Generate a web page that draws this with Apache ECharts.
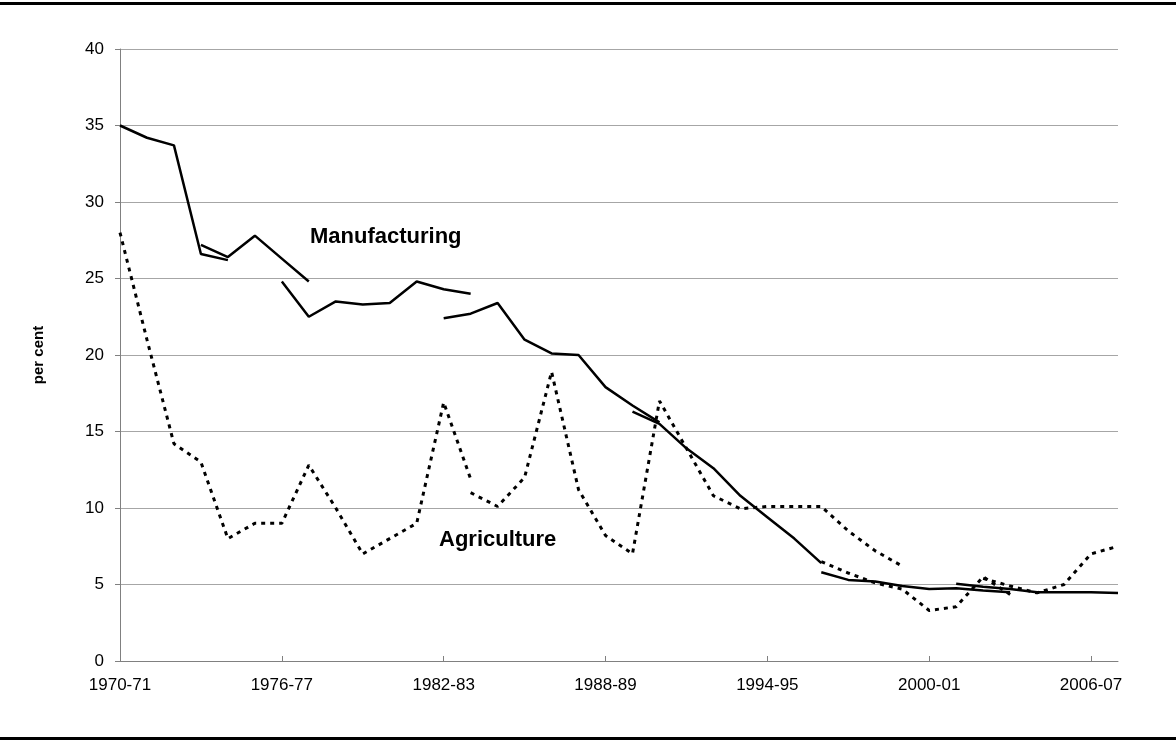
<!DOCTYPE html>
<html>
<head>
<meta charset="utf-8">
<script src="https://cdn.jsdelivr.net/npm/echarts@6/dist/echarts.min.js"></script>
<style>
  html, body { margin: 0; padding: 0; background: #fff; }
  #chart { width: 1176px; height: 742px; }
</style>
</head>
<body>
<div id="chart"></div>
<script>
// 财政年度
var years = ['1970-71','1971-72','1972-73','1973-74','1974-75','1975-76','1976-77','1977-78',
  '1978-79','1979-80','1980-81','1981-82','1982-83','1983-84','1984-85','1985-86','1986-87',
  '1987-88','1988-89','1989-90','1990-91','1991-92','1992-93','1993-94','1994-95','1995-96',
  '1996-97','1997-98','1998-99','1999-00','2000-01','2001-02','2002-03','2003-04','2004-05',
  '2005-06','2006-07','2007-08'];

// 制造业 (分段, 起始年份索引)
var mfg1 = [35.0, 34.2, 33.7, 26.6, 26.2];                       // from 0
var mfg2 = [27.2, 26.4, 27.8, 26.3, 24.8];                       // from 3
var mfg3 = [24.8, 22.5, 23.5, 23.3, 23.4, 24.8, 24.3, 24.0];     // from 6
var mfg4 = [22.4, 22.7, 23.4, 21.0, 20.1, 20.0, 17.9, 16.7, 15.6]; // from 12
var mfg5 = [16.3, 15.5, 13.9, 12.6, 10.8, 9.4, 8.0, 6.4];       // from 19
var mfg6 = [5.8, 5.3, 5.2, 4.9, 4.7, 4.75, 4.6, 4.5];           // from 26
var mfg7 = [5.05, 4.85, 4.7, 4.5, 4.5, 4.5, 4.45];              // from 31

// 农业
var agr1 = [28.0, 21.0, 14.2, 13.0, 8.0, 9.0, 9.0, 12.8, 10.0, 7.0, 8.0, 9.0, 16.9, 11.9]; // from 0
var agr2 = [11.0, 10.1, 12.0, 18.9, 11.2, 8.2, 7.0, 17.0, 13.9, 10.8, 9.95, 10.1, 10.1, 10.1, 8.5, 7.2, 6.2]; // from 13
var agr3 = [6.5, 5.75, 5.1, 4.7, 3.3, 3.55, 5.5, 4.35];         // from 26
var agr4 = [5.4, 4.9, 4.45, 5.0, 7.0, 7.5];                     // from 32

function pad(start, arr) {
  var out = [];
  for (var i = 0; i < years.length; i++) {
    var v = arr[i - start];
    out.push(v === undefined ? null : v);
  }
  return out;
}

var solid = { color: '#000', width: 2.5, type: 'solid' };
var dotted = { color: '#000', width: 3, type: [4, 5] };

function seg(name, start, arr, style) {
  return {
    name: name,
    type: 'line',
    data: pad(start, arr),
    showSymbol: false,
    symbol: 'none',
    connectNulls: false,
    lineStyle: style,
    z: 3
  };
}

var myChart = echarts.init(document.getElementById('chart'));

var option = {
  animation: false,
  backgroundColor: '#fff',
  grid: { left: 120, right: 58, top: 49, bottom: 81 },
  xAxis: {
    type: 'category',
    data: years,
    boundaryGap: false,
    axisLine: { lineStyle: { color: '#808080', width: 1 } },
    axisTick: { inside: true, length: 5, interval: 5, lineStyle: { color: '#808080' } },
    axisLabel: {
      interval: 5,
      margin: 16,
      color: '#000',
      fontSize: 17,
      fontFamily: 'Liberation Sans, Arial, sans-serif'
    },
    splitLine: { show: false }
  },
  yAxis: {
    type: 'value',
    min: 0,
    max: 40,
    interval: 5,
    name: 'per cent',
    nameLocation: 'middle',
    nameGap: 74,
    nameRotate: 90,
    nameTextStyle: {
      color: '#000',
      fontSize: 15,
      fontWeight: 'bold',
      fontFamily: 'Liberation Sans, Arial, sans-serif'
    },
    axisLine: { show: true, lineStyle: { color: '#808080', width: 1 } },
    axisTick: { show: true, length: 5, lineStyle: { color: '#808080' } },
    axisLabel: {
      margin: 16,
      color: '#000',
      fontSize: 17,
      fontFamily: 'Liberation Sans, Arial, sans-serif'
    },
    splitLine: { lineStyle: { color: '#a6a6a6', width: 1 } }
  },
  graphic: [
    { type: 'rect', left: 0, top: 2, shape: { width: 1176, height: 3 }, style: { fill: '#000' } },
    { type: 'rect', left: 0, top: 737, shape: { width: 1176, height: 3 }, style: { fill: '#000' } },
    {
      type: 'text', left: 310, top: 226,
      style: { text: 'Manufacturing', fill: '#000', font: 'bold 22px "Liberation Sans", Arial, sans-serif' }
    },
    {
      type: 'text', left: 439, top: 529,
      style: { text: 'Agriculture', fill: '#000', font: 'bold 22px "Liberation Sans", Arial, sans-serif' }
    }
  ],
  series: [
    seg('Manufacturing', 0, mfg1, solid),
    seg('Manufacturing', 3, mfg2, solid),
    seg('Manufacturing', 6, mfg3, solid),
    seg('Manufacturing', 12, mfg4, solid),
    seg('Manufacturing', 19, mfg5, solid),
    seg('Manufacturing', 26, mfg6, solid),
    seg('Manufacturing', 31, mfg7, solid),
    seg('Agriculture', 0, agr1, dotted),
    seg('Agriculture', 13, agr2, dotted),
    seg('Agriculture', 26, agr3, dotted),
    seg('Agriculture', 32, agr4, dotted)
  ]
};

myChart.setOption(option);
</script>
</body>
</html>
